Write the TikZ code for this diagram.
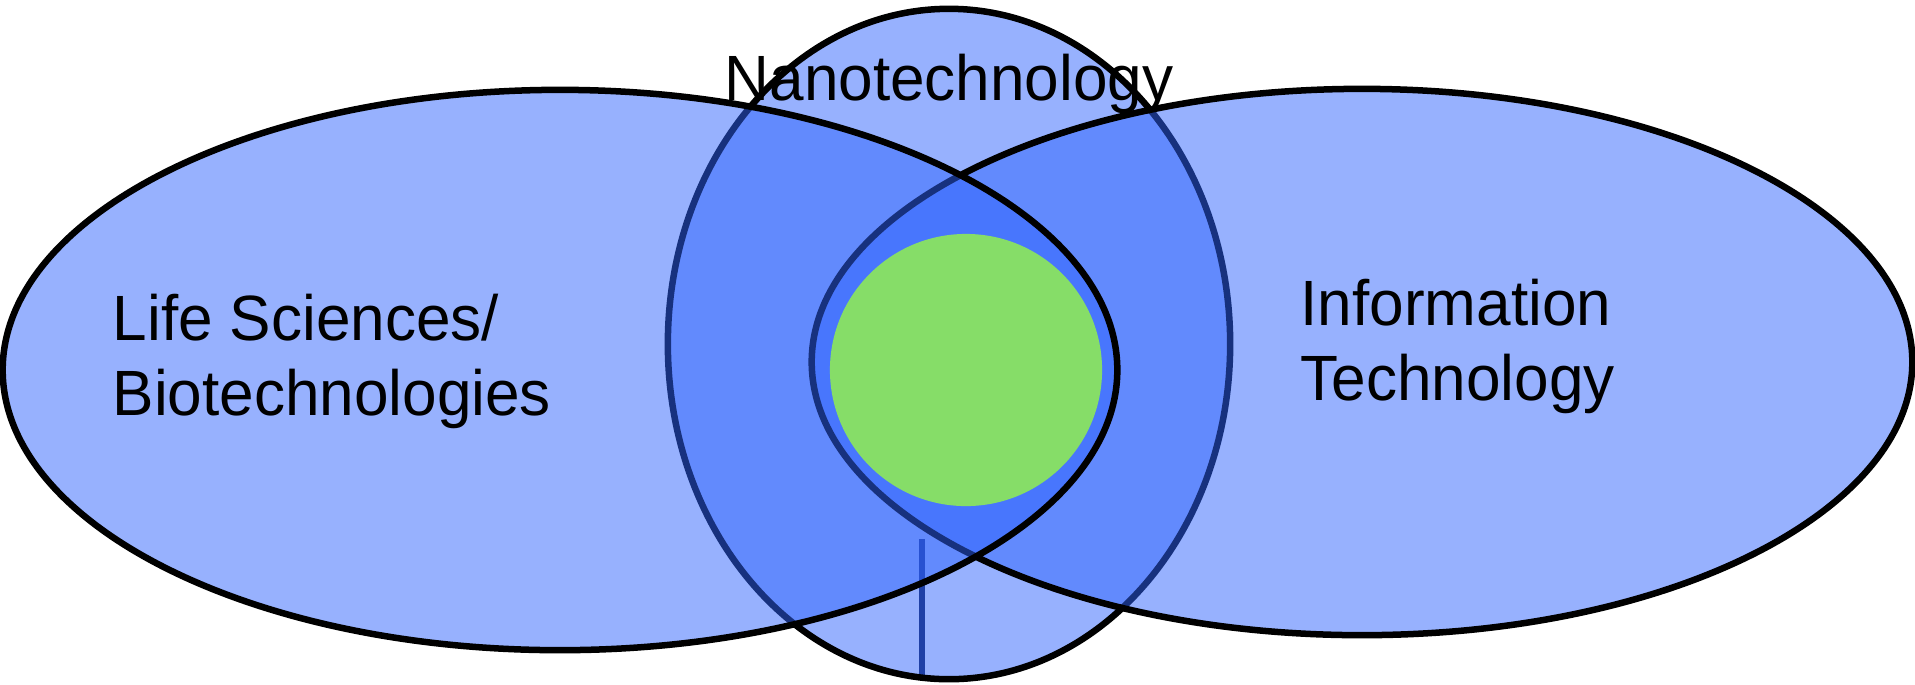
\documentclass[tikz,border=0pt]{standalone}
\usepackage{fontspec}
\setmainfont[FakeStretch=0.97]{Liberation Sans}
\usetikzlibrary{positioning,shapes.geometric}
\definecolor{cazul}{RGB}{47,99,253}
\definecolor{cverde}{HTML}{86DD68}
\definecolor{cmarino}{HTML}{101E50}
\tikzset{
  conjunto/.style={ellipse, draw=black, line width=0.065cm, fill=cazul,
    fill opacity=0.5, inner sep=0pt},
  nucleo/.style={circle, fill=cverde, inner sep=0pt},
  etq/.style={font=\fontsize{18.2}{21.5}\selectfont, align=left, inner sep=0pt},
}
\begin{document}
\begin{tikzpicture}[x=0.01cm, y=-0.01cm]
  \useasboundingbox (0,0) rectangle (1915,684);
  \coordinate (tallo) at (922,539);
  \coordinate (base) at (922,677);
  \draw[cmarino, line width=0.058cm] (tallo) -- (base);
  \node[conjunto, minimum width=5.62cm, minimum height=6.70cm] (nano) at (949,344) {};
  \node[conjunto, minimum width=11.00cm, minimum height=5.46cm] (info) at (1362,362) {};
  \node[conjunto, minimum width=11.14cm, minimum height=5.60cm] (vida) at (560,370) {};
  \node[nucleo, minimum size=2.72cm] (centro) at (966,370) {};
  \node[etq, anchor=base] (tnano) at (949,100) {Nanotechnology};
  \node[etq, anchor=north west] (tvida) at (112,293) {Life Sciences/\\Biotechnologies};
  \node[etq, anchor=north west] (tinfo) at (1300,278) {Information\\Technology};
\end{tikzpicture}
\end{document}
